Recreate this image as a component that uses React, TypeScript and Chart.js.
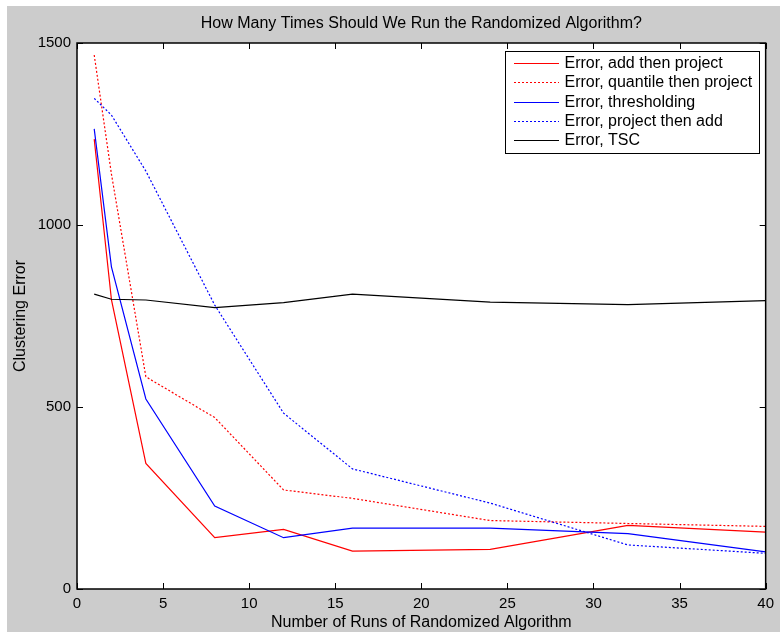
import { useEffect, useRef } from "react";
import { Chart, registerables } from "chart.js";

Chart.register(...registerables);

const titleText = "How Many Times Should We Run the Randomized Algorithm?";
const xTitle = "Number of Runs of Randomized Algorithm";
const yTitle = "Clustering Error";

const runs = [1, 2, 4, 8, 12, 16, 24, 32, 40];
const addThenProject = [1236, 795, 345, 141, 164, 104, 109, 175, 156];
const quantileThenProject = [1467, 1140, 583, 471, 272, 249, 188, 180, 172];
const thresholding = [1264, 885, 522, 228, 141, 167, 167, 152, 102];
const projectThenAdd = [1348, 1302, 1148, 780, 483, 330, 236, 121, 98];
const tsc = [810, 796, 794, 773, 787, 810, 788, 781, 792];

const seriesLabels = [
  "Error, add then project",
  "Error, quantile then project",
  "Error, thresholding",
  "Error, project then add",
  "Error, TSC",
];
const seriesColors = ["#ff0000", "#ff0000", "#0000ff", "#0000ff", "#000000"];
const seriesDotted = [false, true, false, true, false];
const seriesValues = [addThenProject, quantileThenProject, thresholding, projectThenAdd, tsc];

const xTicks = [0, 5, 10, 15, 20, 25, 30, 35, 40];
const yTicks = [0, 500, 1000, 1500];

const FONT = '"Liberation Sans", Arial, Helvetica, sans-serif';
const DOT = [2, 2];
const LW = 1.2;

const framePlugin = {
  id: "matlabFrame",
  beforeDraw(chart: any) {
    const { ctx, chartArea: a, width, height } = chart;
    ctx.save();
    ctx.fillStyle = "#cccccc";
    ctx.fillRect(0, 0, width, height);
    ctx.fillStyle = "#ffffff";
    ctx.fillRect(a.left, a.top, a.right - a.left, a.bottom - a.top);
    ctx.fillStyle = "#000000";
    ctx.font = `16px ${FONT}`;
    ctx.textAlign = "center";
    ctx.textBaseline = "middle";
    ctx.fillText(titleText, (a.left + a.right) / 2, 18);
    ctx.restore();
  },
  afterDatasetsDraw(chart: any) {
    const { ctx, chartArea: a } = chart;
    const xs = chart.scales.x;
    const ys = chart.scales.y;
    const tl = 6;
    ctx.save();
    ctx.strokeStyle = "#000000";
    ctx.lineWidth = 1;
    ctx.beginPath();
    xTicks.forEach((v) => {
      const p = Math.round(xs.getPixelForValue(v)) + 0.5;
      ctx.moveTo(p, a.bottom);
      ctx.lineTo(p, a.bottom - tl);
      ctx.moveTo(p, a.top);
      ctx.lineTo(p, a.top + tl);
    });
    yTicks.forEach((v) => {
      const p = Math.round(ys.getPixelForValue(v)) + 0.5;
      ctx.moveTo(a.left, p);
      ctx.lineTo(a.left + tl, p);
      ctx.moveTo(a.right, p);
      ctx.lineTo(a.right - tl, p);
    });
    ctx.stroke();
    ctx.lineWidth = 1.5;
    ctx.strokeRect(a.left, a.top, a.right - a.left, a.bottom - a.top);
    ctx.restore();
  },
  afterDraw(chart: any) {
    const { ctx, chartArea: a } = chart;
    ctx.save();
    ctx.font = `16px ${FONT}`;
    let maxW = 0;
    seriesLabels.forEach((l) => {
      maxW = Math.max(maxW, ctx.measureText(l).width);
    });
    const boxW = Math.round(60 + maxW + 6);
    const rowH = 19.4;
    const boxH = 102;
    const right = Math.round(a.right - 7);
    const left = right - boxW;
    const top = Math.round(a.top + 8);
    ctx.fillStyle = "#ffffff";
    ctx.fillRect(left, top, boxW, boxH);
    ctx.strokeStyle = "#000000";
    ctx.lineWidth = 1;
    ctx.setLineDash([]);
    ctx.strokeRect(left + 0.5, top + 0.5, boxW, boxH);
    seriesLabels.forEach((label, i) => {
      const cy = Math.round(top + 11.7 + i * rowH);
      ctx.beginPath();
      ctx.strokeStyle = seriesColors[i];
      ctx.lineWidth = LW;
      ctx.setLineDash(seriesDotted[i] ? DOT : []);
      ctx.moveTo(left + 9, cy + 0.5);
      ctx.lineTo(left + 54, cy + 0.5);
      ctx.stroke();
      ctx.setLineDash([]);
      ctx.fillStyle = "#000000";
      ctx.textAlign = "left";
      ctx.textBaseline = "middle";
      ctx.fillText(label, left + 59.5, cy + 0.5);
    });
    ctx.restore();
  },
};

export default function App() {
  const ref = useRef<HTMLCanvasElement>(null);
  useEffect(() => {
    const canvas = ref.current;
    if (!canvas) return;
    const datasets = seriesLabels.map((label, i) => ({
      label,
      data: runs.map((r, j) => ({ x: r, y: seriesValues[i][j] })),
      borderColor: seriesColors[i],
      backgroundColor: seriesColors[i],
      borderWidth: LW,
      borderDash: seriesDotted[i] ? DOT : [],
      pointRadius: 0,
      tension: 0,
      fill: false,
      order: seriesLabels.length - i,
    }));
    const chart = new Chart(canvas, {
      type: "line",
      data: { datasets },
      options: {
        animation: false,
        responsive: false,
        devicePixelRatio: 1,
        layout: { padding: { top: 37, right: 10, left: 0, bottom: 0 } },
        plugins: {
          legend: { display: false },
          title: { display: false },
          tooltip: { enabled: false },
        },
        scales: {
          x: {
            type: "linear",
            min: 0,
            max: 40,
            afterFit(scale: any) {
              scale.height = 43;
            },
            afterBuildTicks(scale: any) {
              scale.ticks = xTicks.map((v) => ({ value: v }));
            },
            grid: { display: false, drawTicks: false, tickLength: 0 },
            border: { display: false },
            ticks: {
              color: "#000000",
              font: { family: FONT, size: 15 },
              padding: 6,
              maxRotation: 0,
              autoSkip: false,
              callback: (v: any) => String(v),
            },
            title: {
              display: true,
              text: xTitle,
              color: "#000000",
              font: { family: FONT, size: 16 },
              padding: { top: 0, bottom: 0 },
            },
          },
          y: {
            type: "linear",
            min: 0,
            max: 1500,
            afterFit(scale: any) {
              scale.width = 70;
            },
            afterBuildTicks(scale: any) {
              scale.ticks = yTicks.map((v) => ({ value: v }));
            },
            grid: { display: false, drawTicks: false, tickLength: 0 },
            border: { display: false },
            ticks: {
              color: "#000000",
              font: { family: FONT, size: 15 },
              padding: 6,
              autoSkip: false,
              callback: (v: any) => String(v),
            },
            title: {
              display: true,
              text: yTitle,
              color: "#000000",
              font: { family: FONT, size: 16 },
              padding: { top: 3.5, bottom: 0 },
            },
          },
        },
      },
      plugins: [framePlugin],
    } as any);
    return () => chart.destroy();
  }, []);
  return (
    <div style={{ position: "fixed", left: 7, top: 6, width: 773, height: 626 }}>
      <canvas ref={ref} width={773} height={626} style={{ display: "block" }} />
    </div>
  );
}
